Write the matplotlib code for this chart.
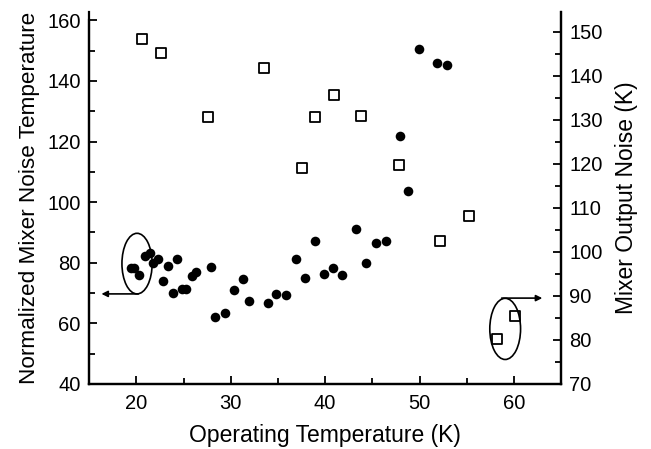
import matplotlib
matplotlib.use("Agg")
import matplotlib.pyplot as plt
from matplotlib.patches import Ellipse
from matplotlib.ticker import MultipleLocator

plt.rcParams['font.family'] = ['Liberation Sans', 'DejaVu Sans']

# Filled circles: normalized mixer noise temperature (left axis)
noise_T = [19.4, 19.8, 20.3, 20.9, 21.4, 21.8, 22.3, 22.8, 23.3, 23.9, 24.3, 24.8,
           25.3, 25.9, 26.3, 27.9, 28.3, 29.4, 30.3, 31.3, 31.9, 33.9, 34.8, 35.9,
           36.9, 37.9, 38.9, 39.9, 40.8, 41.8, 43.3, 44.3, 45.4, 46.4, 47.9, 48.8,
           49.9, 51.8, 52.9]
noise_val = [78.1, 78.1, 75.9, 82.2, 83.1, 79.8, 81.1, 74.0, 78.9, 69.9, 81.1, 71.3,
             71.2, 75.6, 77.0, 78.5, 62.2, 63.3, 71.0, 74.6, 67.5, 66.6, 69.6, 69.3,
             81.1, 74.8, 87.1, 76.3, 78.1, 76.1, 91.1, 79.8, 86.6, 87.0, 121.7, 103.8,
             150.4, 145.9, 145.4]

# Open squares: mixer output noise (right axis)
out_T = [20.6, 22.6, 27.6, 33.5, 37.5, 38.9, 40.9, 43.8, 47.8, 52.2, 55.2, 58.2, 60.1]
out_val = [148.4, 145.2, 130.6, 141.8, 119.0, 130.6, 135.7, 130.8, 119.8, 102.5,
           108.2, 80.2, 85.4]

x_label = "Operating Temperature (K)"
yl_label = "Normalized Mixer Noise Temperature"
yr_label = "Mixer Output Noise (K)"

fig = plt.figure(figsize=(6.51, 4.49), dpi=100)
ax = fig.add_axes([0.137, 0.145, 0.725, 0.828])
ax2 = ax.twinx()

ax.scatter(noise_T, noise_val, s=48, c='black', marker='o', linewidths=0, zorder=3)
ax2.scatter(out_T, out_val, s=42, facecolors='white', edgecolors='black',
            marker='s', linewidths=1.3, zorder=3)

ax.set_xlim(15, 65)
ax.set_ylim(40, 162.7)
ax2.set_ylim(70, 154.5)

ax.spines['left'].set_bounds(40, 160)
for a in (ax, ax2):
    a.spines['top'].set_visible(False)
    for s in a.spines.values():
        s.set_linewidth(1.6)

ax.xaxis.set_minor_locator(MultipleLocator(5))
ax.yaxis.set_minor_locator(MultipleLocator(10))
ax2.yaxis.set_minor_locator(MultipleLocator(5))
ax.set_yticks([40, 60, 80, 100, 120, 140, 160])
ax2.set_yticks([70, 80, 90, 100, 110, 120, 130, 140, 150])
ax.set_xticks([20, 30, 40, 50, 60])

ax.tick_params(axis='both', which='both', direction='in', width=1.3, labelsize=14.5)
ax.tick_params(which='major', length=6)
ax.tick_params(which='minor', length=4)
ax.tick_params(axis='x', pad=7)
ax.tick_params(axis='y', pad=6)
ax2.tick_params(axis='y', which='both', direction='in', width=1.3, labelsize=14.5, pad=6)
ax2.tick_params(which='major', length=6)
ax2.tick_params(which='minor', length=4)

ax.set_xlabel(x_label, fontsize=16.5, labelpad=8)
ax.set_ylabel(yl_label, fontsize=16.2, labelpad=5)
ax2.set_ylabel(yr_label, fontsize=16.5, labelpad=9)

# Annotation ellipses and arrows
ax.add_patch(Ellipse((20.07, 79.7), 3.2, 20.0, fill=False, lw=1.2, ec='black', zorder=4))
ax.annotate('', xy=(16.3, 69.7), xytext=(20.2, 69.7),
            arrowprops=dict(arrowstyle='-|>', color='black', lw=1.2,
                            mutation_scale=9, shrinkA=0, shrinkB=0))
ax2.add_patch(Ellipse((59.07, 82.5), 3.26, 13.9, fill=False, lw=1.2, ec='black', zorder=4))
ax2.annotate('', xy=(63.0, 89.5), xytext=(58.7, 89.5),
             arrowprops=dict(arrowstyle='-|>', color='black', lw=1.2,
                             mutation_scale=9, shrinkA=0, shrinkB=0))

fig.savefig('out.png', dpi=100)
